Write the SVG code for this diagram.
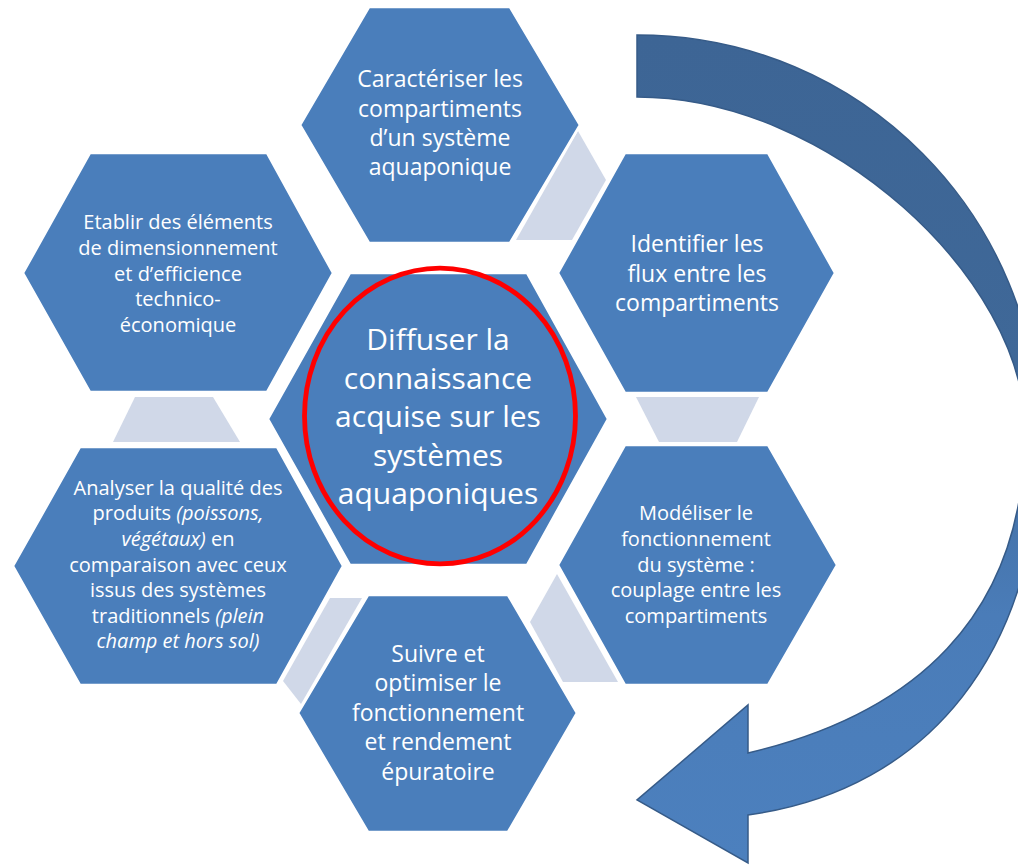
<svg xmlns="http://www.w3.org/2000/svg" width="1018" height="865" viewBox="0 0 1018 865">
<style>
.hex{fill:#4a7ebb;stroke:#ffffff;stroke-width:2.5}
.conn{fill:#d0d8e8}
.t{font-family:"Open Sans","Liberation Sans",sans-serif;fill:#ffffff;text-anchor:middle}
.m{font-size:23px}
.s{font-size:20px}
.l{font-size:30px}
.i{font-style:italic}
</style>
<defs>
<linearGradient id="ag" gradientUnits="userSpaceOnUse" x1="0" y1="35" x2="0" y2="863">
<stop offset="0" stop-color="#3d6595"/>
<stop offset="0.4" stop-color="#3f6898"/>
<stop offset="0.7" stop-color="#4a7cb8"/>
<stop offset="1" stop-color="#4c80be"/>
</linearGradient>
</defs>
<rect width="1018" height="865" fill="#ffffff"/>
<g id="cycle-arrow">
<path d="M637,35 C861,35 1040,216 1040,440 C1040,650 930,790 748,815 L748,863 L637,800 L748,705 L748,753 C910,715 1025,620 1025,430 C1025,280 830,97 637,97 Z" fill="url(#ag)" stroke="#365b88" stroke-width="1.5"/>
</g>
<g id="connectors">
<polygon class="conn" points="578,131 606,180 572,240 516,240"/>
<polygon class="conn" points="636,397 759,397 737,442 659,442"/>
<polygon class="conn" points="557,574 618,682 563,682 530,622"/>
<polygon class="conn" points="330,598 362,598 301,704 283,681"/>
<polygon class="conn" points="135,397 213,397 240,442 113,442"/>
</g>
<g id="node-caracteriser">
<polygon class="hex" points="369,7 510,7 580,125 510,243 369,243 300,125"/>
<text class="t m" x="440"><tspan x="440" y="87">Caractériser les</tspan><tspan x="440" y="117">compartiments</tspan><tspan x="440" y="146">d’un système</tspan><tspan x="440" y="175">aquaponique</tspan></text>
</g>
<g id="node-identifier">
<polygon class="hex" points="625,153 768,153 835,273 768,393 625,393 558,273"/>
<text class="t m"><tspan x="697" y="252">Identifier les</tspan><tspan x="697" y="282">flux entre les</tspan><tspan x="697" y="311">compartiments</tspan></text>
</g>
<g id="node-modeliser">
<polygon class="hex" points="625,445 768,445 837,565 768,685 625,685 558,565"/>
<text class="t s"><tspan x="696" y="520">Modéliser le</tspan><tspan x="696" y="546">fonctionnement</tspan><tspan x="696" y="572">du système :</tspan><tspan x="696" y="597">couplage entre les</tspan><tspan x="696" y="623">compartiments</tspan></text>
</g>
<g id="node-suivre">
<polygon class="hex" points="368,595 508,595 577,713 508,832 368,832 298,713"/>
<text class="t m"><tspan x="438" y="662">Suivre et</tspan><tspan x="438" y="691">optimiser le</tspan><tspan x="438" y="721">fonctionnement</tspan><tspan x="438" y="750">et rendement</tspan><tspan x="438" y="780">épuratoire</tspan></text>
</g>
<g id="node-analyser">
<polygon class="hex" points="80,447 277,447 343,566 277,685 80,685 13,566"/>
<text class="t s"><tspan x="178" y="495">Analyser la qualité des</tspan><tspan x="178" y="520">produits <tspan class="i">(poissons,</tspan></tspan><tspan x="178" y="546"><tspan class="i">végétaux)</tspan> en</tspan><tspan x="178" y="572">comparaison avec ceux</tspan><tspan x="178" y="597">issus des systèmes</tspan><tspan x="178" y="623">traditionnels <tspan class="i">(plein</tspan></tspan><tspan x="178" y="648" class="i">champ et hors sol)</tspan></text>
</g>
<g id="node-etablir">
<polygon class="hex" points="90,153 267,153 333,273 267,392 90,392 23,273"/>
<text class="t s"><tspan x="178" y="229">Etablir des éléments</tspan><tspan x="178" y="255">de dimensionnement</tspan><tspan x="178" y="281">et d’efficience</tspan><tspan x="178" y="306">technico-</tspan><tspan x="178" y="332">économique</tspan></text>
</g>
<g id="node-diffuser">
<polygon class="hex" points="350,273 527,273 608,419 527,565 350,565 268,419"/>
<ellipse cx="440" cy="416" rx="135.5" ry="147.8" fill="none" stroke="#ff0000" stroke-width="4.8"/>
<text class="t l"><tspan x="438" y="350">Diffuser la</tspan><tspan x="438" y="389">connaissance</tspan><tspan x="438" y="427">acquise sur les</tspan><tspan x="438" y="466">systèmes</tspan><tspan x="438" y="504">aquaponiques</tspan></text>
</g>
</svg>
